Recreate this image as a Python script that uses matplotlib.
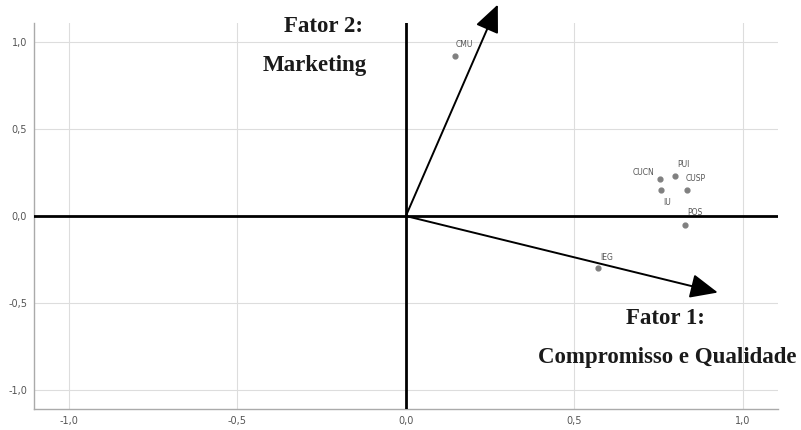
import matplotlib
matplotlib.use("Agg")
import matplotlib.pyplot as plt

# Data
labels = ["CMU", "CUCN", "PUI", "CUSP", "IU", "POS", "IEG"]
factor1 = [0.145, 0.754, 0.80, 0.834, 0.757, 0.83, 0.57]
factor2 = [0.92, 0.213, 0.23, 0.15, 0.15, -0.05, -0.30]

# Factor direction arrows (endpoints)
arrow_x = [0.273, 0.926]
arrow_y = [1.216, -0.44]

tick_values = [-1.0, -0.5, 0.0, 0.5, 1.0]
tick_labels = ["-1,0", "-0,5", "0,0", "0,5", "1,0"]

# label offsets in points (style)
label_offsets = {"CMU": (1, 8, "left"), "CUCN": (-4, 5, "right"), "PUI": (1, 8, "left"),
                 "CUSP": (-1, 8, "left"), "IU": (2, -9, "left"), "POS": (1, 9, "left"),
                 "IEG": (2, 8, "left")}

fig = plt.figure(figsize=(8.01, 4.30), dpi=100)
ax = fig.add_axes([0.0424, 0.0488, 0.971 - 0.0424, 0.9465 - 0.0488])
ax.set_xlim(-1.104, 1.104)
ax.set_ylim(-1.11, 1.11)

ax.set_xticks(tick_values)
ax.set_xticklabels(tick_labels)
ax.set_yticks(tick_values)
ax.set_yticklabels(tick_labels)
ax.tick_params(length=0, labelsize=7, colors="#555555", pad=5)
ax.grid(True, color="#dddddd", linewidth=0.8)
ax.set_axisbelow(True)
for s in ["top", "right"]:
    ax.spines[s].set_visible(False)
for s in ["left", "bottom"]:
    ax.spines[s].set_color("#aaaaaa")
    ax.spines[s].set_linewidth(1.0)

# thick zero axes
ax.axhline(0, color="black", linewidth=2.0, zorder=3)
ax.axvline(0, color="black", linewidth=2.0, zorder=3)

# arrows
for ax_, ay_ in zip(arrow_x, arrow_y):
    ax.annotate("", xy=(ax_, ay_), xytext=(0, 0), annotation_clip=False,
                arrowprops=dict(arrowstyle="-|>,head_length=1.7,head_width=0.75",
                                color="black", linewidth=1.4, shrinkA=0, shrinkB=0),
                zorder=4)

# points
ax.scatter(factor1, factor2, s=12, color="#808080", zorder=5)
for lab, x, y in zip(labels, factor1, factor2):
    dx, dy, ha = label_offsets[lab]
    ax.annotate(lab, (x, y), xytext=(dx, dy), textcoords="offset points",
                fontsize=5.5, color="#555555", ha=ha, va="center", zorder=6)

serif = dict(family="Liberation Serif", fontweight="bold", color="#1a1a1a", fontsize=16.5)
fig.text(323 / 801, 1 - 26 / 430, "Fator 2:", ha="center", va="center", **serif)
fig.text(315 / 801, 1 - 66 / 430, "Marketing", ha="center", va="center", **serif)
fig.text(665 / 801, 1 - 318 / 430, "Fator 1:", ha="center", va="center", **serif)
fig.text(667 / 801, 1 - 357 / 430, "Compromisso e Qualidade", ha="center", va="center", **serif)

fig.savefig("out.png", dpi=100)
